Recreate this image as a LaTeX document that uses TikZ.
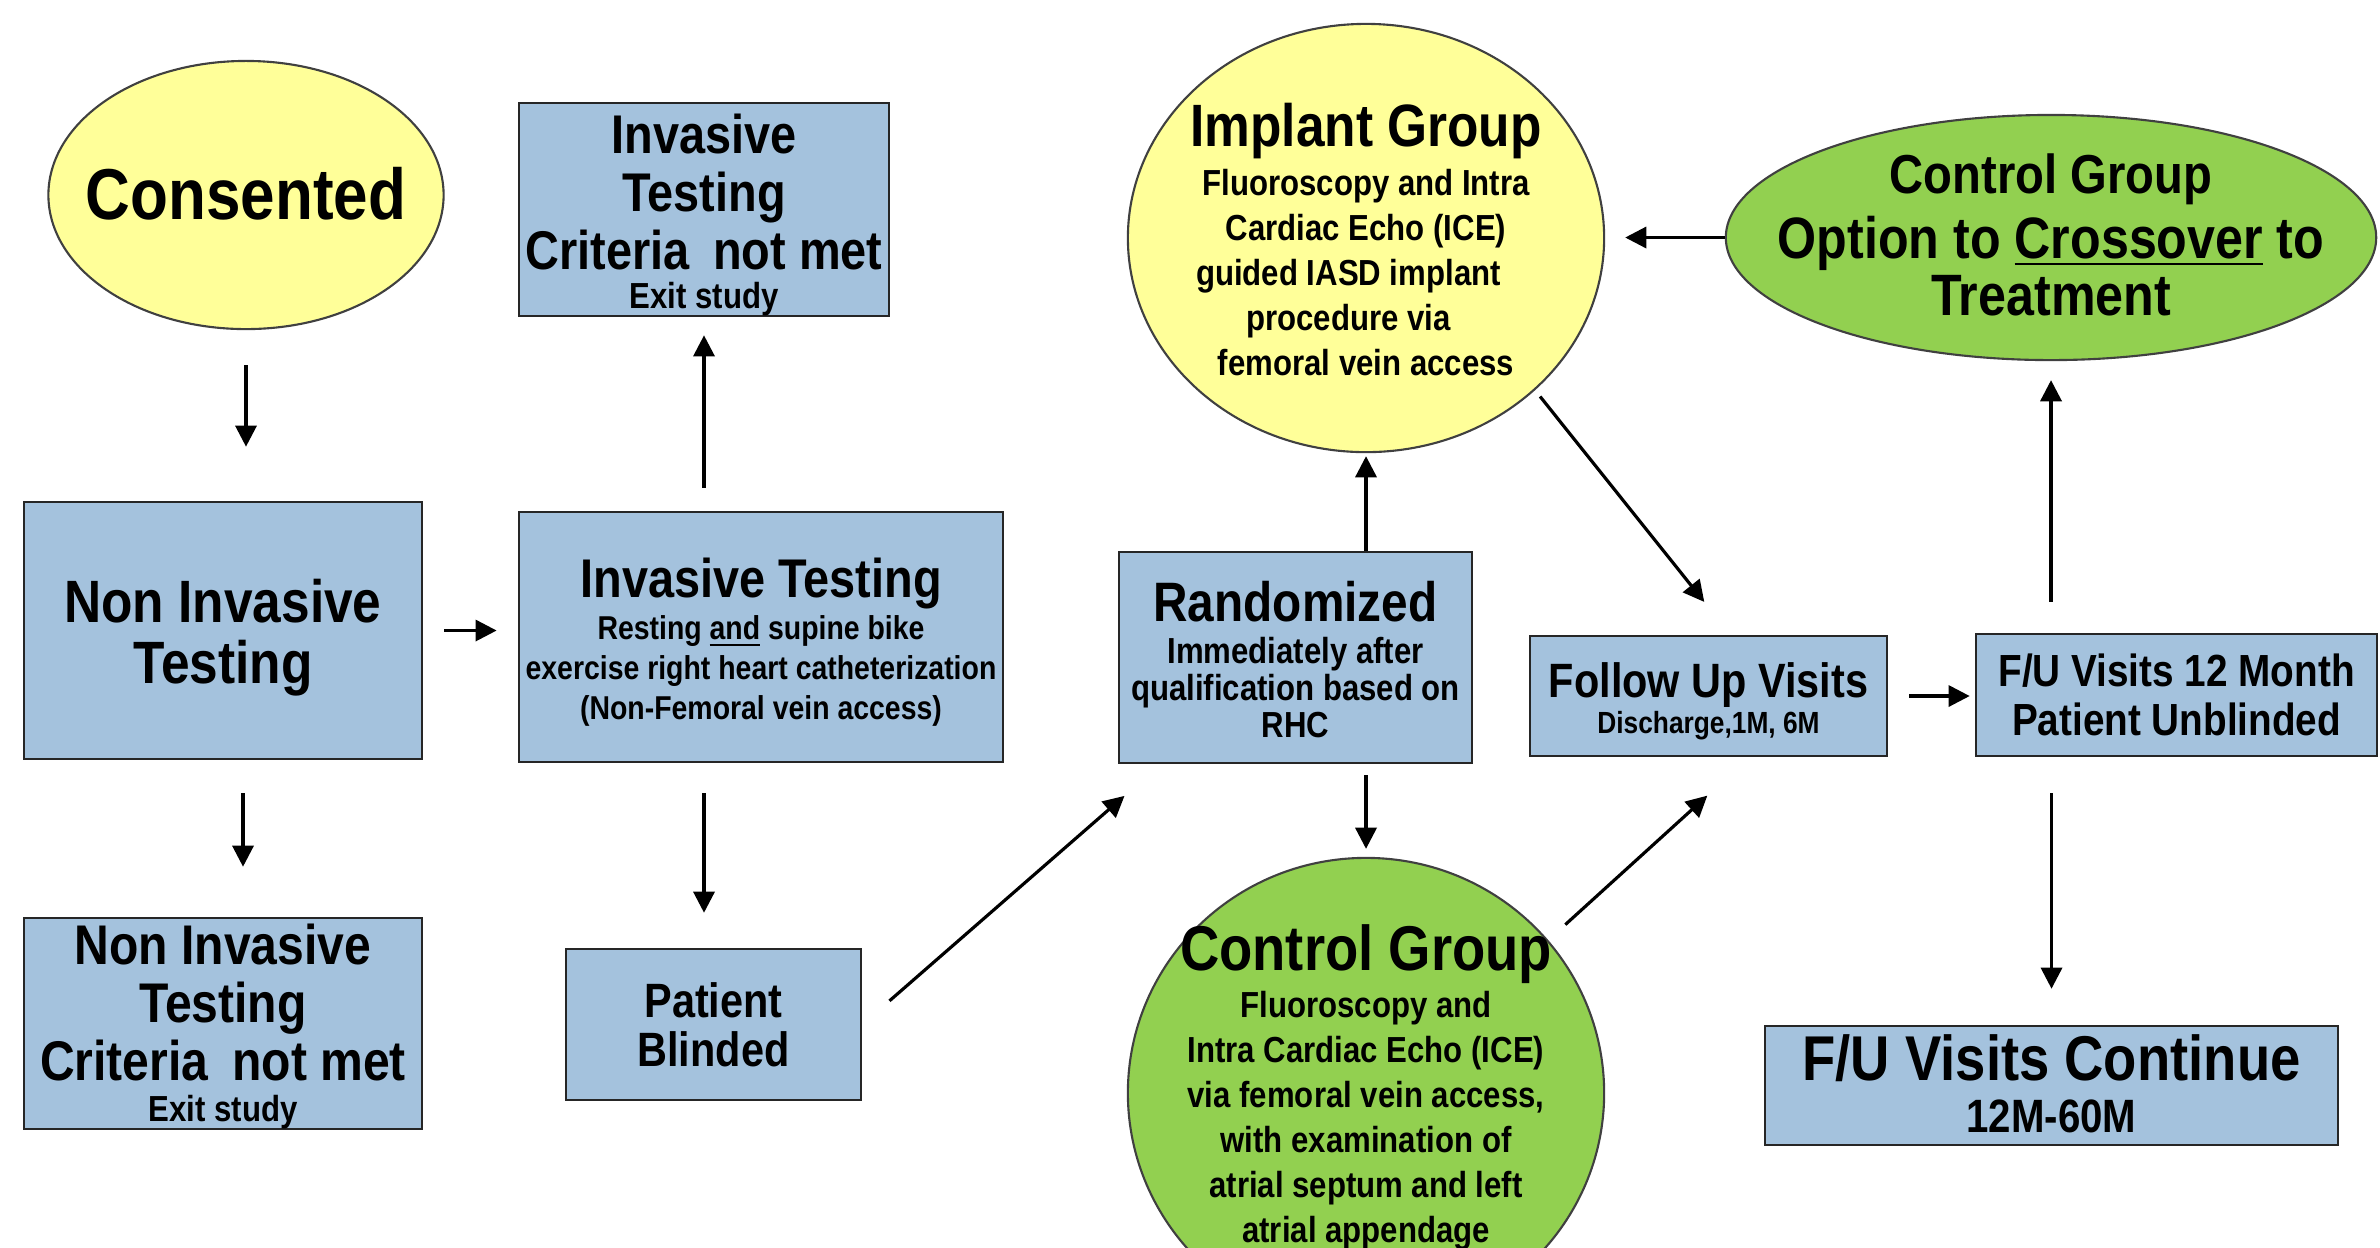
\documentclass[tikz,border=0pt]{standalone}
\usepackage{fontspec}
\setmainfont{Liberation Sans}[FakeStretch=0.86]
\usetikzlibrary{arrows.meta,shapes.geometric,calc}

\definecolor{boxblue}{RGB}{164,194,221}
\definecolor{ovalyellow}{RGB}{255,255,153}
\definecolor{ovalgreen}{RGB}{146,208,80}

\newcommand{\fsz}[2]{\fontsize{#1}{#2}\selectfont}
\newcommand{\nodetxt}[3]{\raisebox{-#1}[0pt][0pt]{\makebox[0pt]{#2\begin{tabular}{@{}c@{}}#3\end{tabular}}}}

\begin{document}
\begin{tikzpicture}[x=0.01cm, y=-0.01cm, font=\bfseries,
    box/.style={draw=black!85, fill=boxblue, line width=0.7pt, inner sep=0pt},
    oval/.style={ellipse, draw=black!75, line width=0.6pt, inner sep=0pt},
    arr/.style={-{Triangle[length=6pt,width=6pt]}, line width=0.9pt}]
  \useasboundingbox (0,0) rectangle (2380,1247);
  \clip (0,0) rectangle (2380,1247);

  \node[oval, fill=ovalyellow, minimum width=3.95cm, minimum height=2.68cm] (cons) at (246,195)
    {\nodetxt{7.3pt}{\fsz{20.5}{24}}{Consented}};
  \node[box, minimum width=3.70cm, minimum height=2.13cm] (itfail) at (704,209.5)
    {\nodetxt{6.3pt}{\fsz{15.5}{16.5}}{Invasive\\Testing\\Criteria\hspace{3pt} not met\\[-5.4pt]{\fsz{10.3}{12}Exit study}}};
  \node[box, minimum width=3.98cm, minimum height=2.57cm] (nit) at (223,630.5)
    {\nodetxt{7pt}{\fsz{17}{17}}{Non Invasive\\Testing}};
  \node[box, minimum width=4.84cm, minimum height=2.50cm] (it) at (761,637)
    {\nodetxt{4.5pt}{\fsz{9.4}{11.4}}{{\fsz{15.5}{16}Invasive Testing}\\[0.6pt]
      Resting \underline{and} supine bike\\exercise right heart catheterization\\(Non-Femoral vein access)}};
  \node[box, minimum width=3.98cm, minimum height=2.11cm] (nitfail) at (223,1023.5)
    {\nodetxt{6.6pt}{\fsz{15.9}{16.5}}{Non Invasive\\Testing\\Criteria\hspace{3pt} not met\\[-4.8pt]{\fsz{10.3}{12}Exit study}}};
  \node[box, minimum width=2.95cm, minimum height=1.51cm] (pb) at (713.5,1024.5)
    {\nodetxt{5.6pt}{\fsz{13.7}{13.7}}{Patient\\Blinded}};
  \node[box, minimum width=3.53cm, minimum height=2.11cm] (rand) at (1295.5,657.5)
    {\nodetxt{4.7pt}{\fsz{10.3}{10.6}}{{\fsz{15.8}{16}Randomized}\\[1.1pt]Immediately after\\qualification based on\\RHC}};
  \node[oval, fill=ovalyellow, minimum width=4.76cm, minimum height=4.28cm] (impl) at (1366,238)
    {\nodetxt{4.7pt}{\fsz{10.3}{12.8}}{{\fsz{17}{18}Implant Group}\\[1.1pt]Fluoroscopy and Intra\\Cardiac Echo (ICE)\\
      guided IASD implant\hspace*{10pt}\\procedure via\hspace*{10pt}\\femoral vein access}};
  \node[oval, fill=ovalgreen, minimum width=4.76cm, minimum height=4.70cm] (ctrl) at (1366,1093)
    {\nodetxt{1.7pt}{\fsz{10.3}{12.8}}{{\fsz{18}{19}Control Group}\\[0.5pt]Fluoroscopy and\\Intra Cardiac Echo (ICE)\\
      via femoral vein access,\\with examination of\\atrial septum and left\\atrial appendage}};
  \node[box, minimum width=3.57cm, minimum height=1.20cm] (fu) at (1708.5,696)
    {\nodetxt{4.6pt}{\fsz{8.7}{11.7}}{{\fsz{13.7}{14}Follow Up Visits}\\[-1.3pt]Discharge,1M, 6M}};
  \node[box, minimum width=4.01cm, minimum height=1.22cm] (fu12) at (2176.5,695)
    {\nodetxt{4.7pt}{\fsz{12.8}{14.2}}{F/U Visits 12 Month\\Patient Unblinded}};
  \node[oval, fill=ovalgreen, minimum width=6.50cm, minimum height=2.45cm] (cross) at (2051,237.5)
    {\nodetxt{6pt}{\fsz{16.6}{16.2}}{{\fsz{15.6}{16}Control Group}\\[1.6pt]Option to \underline{Crossover} to\\Treatment}};
  \node[box, minimum width=5.73cm, minimum height=1.19cm] (fucont) at (2051.5,1085.5)
    {\nodetxt{5.5pt}{\fsz{13.3}{16.5}}{{\fsz{18}{19}F/U Visits Continue}\\[-1.7pt]12M-60M}};

  \draw[arr, shorten <=0.35cm, shorten >=0.54cm] (cons.south) -- (cons.south |- nit.north);
  \draw[arr, shorten <=0.21cm, shorten >=0.21cm] (nit.east) -- (nit.east -| it.west);
  \draw[arr, shorten <=0.23cm, shorten >=0.18cm] (itfail.south |- it.north) -- (itfail.south);
  \draw[arr, shorten <=0.33cm, shorten >=0.50cm] ([xshift=0.2cm]nit.south) -- ([xshift=0.2cm]nitfail.north);
  \draw[arr, shorten <=0.30cm, shorten >=0.35cm] (itfail.south |- it.south) -- (itfail.south |- pb.north);
  \draw[arr, shorten <=0.36cm, shorten >=0.48cm] (pb.east) -- ([xshift=0.43cm]rand.south west);
  \draw[arr, shorten >=0.03cm] (impl.south |- rand.north) -- (impl.south);
  \draw[arr, shorten <=0.11cm, shorten >=0.08cm] (impl.south |- rand.south) -- (ctrl.north);
  \draw[arr, shorten <=0.08cm, shorten >=0.42cm] (impl.-42) -- ([xshift=0.22cm]fu.north);
  \draw[arr, shorten <=0.23cm, shorten >=0.57cm] (ctrl.40) -- ([xshift=0.41cm]fu.south);
  \draw[arr, shorten <=0.21cm, shorten >=0.05cm] (fu.east) -- (fu.east -| fu12.west);
  \draw[arr, shorten <=0.31cm, shorten >=0.19cm] (cross.south |- fu12.north) -- (cross.south);
  \draw[arr, shorten <=0.36cm, shorten >=0.36cm] (fucont.north |- fu12.south) -- (fucont.north);
  \draw[arr, shorten >=0.20cm] (cross.west) -- (cross.west -| impl.east);
\end{tikzpicture}
\end{document}
